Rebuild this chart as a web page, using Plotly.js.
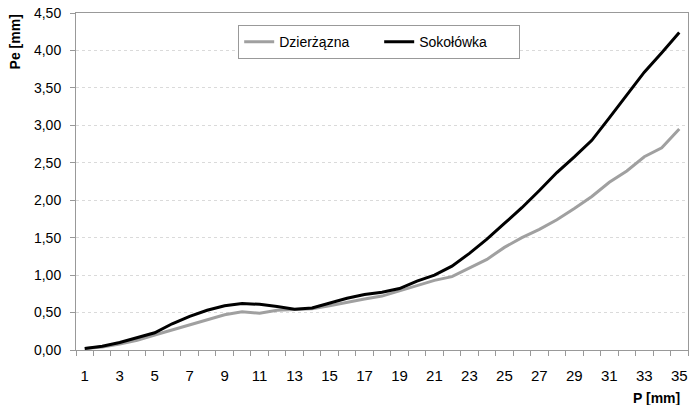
<!DOCTYPE html>
<html>
<head>
<meta charset="utf-8">
<script src="https://cdn.plot.ly/plotly-3.0.1.min.js"></script>
<style>
  html, body { margin: 0; padding: 0; background: #fff; }
  #chart { width: 689px; height: 405px; }
</style>
</head>
<body>
<div id="chart"></div>
<script>
// Precipitation P [mm] (categories along the x axis)
const precipitation = [1, 2, 3, 4, 5, 6, 7, 8, 9, 10, 11, 12, 13, 14, 15, 16, 17, 18,
  19, 20, 21, 22, 23, 24, 25, 26, 27, 28, 29, 30, 31, 32, 33, 34, 35];

// Effective precipitation Pe [mm] for each catchment
const dzierzazna = [0.02, 0.04, 0.08, 0.13, 0.20, 0.27, 0.34, 0.41, 0.47, 0.51, 0.49, 0.53,
  0.54, 0.55, 0.59, 0.64, 0.68, 0.72, 0.79, 0.86, 0.93, 0.98, 1.09, 1.21, 1.37, 1.50,
  1.61, 1.74, 1.89, 2.05, 2.24, 2.39, 2.58, 2.70, 2.95];
const sokolowka = [0.02, 0.05, 0.10, 0.16, 0.23, 0.35, 0.45, 0.53, 0.59, 0.62, 0.61, 0.58,
  0.545, 0.56, 0.625, 0.69, 0.74, 0.77, 0.82, 0.92, 1.00, 1.12, 1.29, 1.48, 1.69, 1.90,
  2.13, 2.37, 2.58, 2.80, 3.10, 3.41, 3.71, 3.97, 4.24];

const seriesNames = ['Dzierżązna', 'Sokołówka'];
const xTickLabels = ['1', '3', '5', '7', '9', '11', '13', '15', '17', '19', '21', '23',
  '25', '27', '29', '31', '33', '35'];
const xTickValues = xTickLabels.map(Number);
const yTickValues = [0, 0.5, 1, 1.5, 2, 2.5, 3, 3.5, 4, 4.5];
const yTickLabels = yTickValues.map(v => v.toFixed(2).replace('.', ','));

const font = 'Liberation Sans, Arial, sans-serif';

const traces = [
  {
    x: precipitation, y: dzierzazna, name: seriesNames[0],
    type: 'scatter', mode: 'lines',
    line: { color: '#a0a0a0', width: 3 }
  },
  {
    x: precipitation, y: sokolowka, name: seriesNames[1],
    type: 'scatter', mode: 'lines',
    line: { color: '#000000', width: 3 }
  }
];

const layout = {
  width: 689, height: 405,
  margin: { l: 76, r: 1, t: 13, b: 55 },
  paper_bgcolor: '#ffffff',
  plot_bgcolor: '#ffffff',
  font: { family: font, color: '#000', size: 14 },
  showlegend: true,
  legend: {
    orientation: 'h',
    x: 0.265, y: 0.964, xanchor: 'left', yanchor: 'top',
    bordercolor: '#999', borderwidth: 1, bgcolor: '#fff',
    font: { family: font, size: 14 },
    entrywidth: 95,
    tracegroupgap: 0
  },
  xaxis: {
    range: [0.5, 35.5],
    tickmode: 'array', tickvals: xTickValues, ticktext: xTickLabels,
    ticks: '', showgrid: false, zeroline: false,
    showline: true, linecolor: '#999', linewidth: 1, mirror: true,
    minor: { tickmode: 'linear', tick0: 0.5, dtick: 1, ticks: 'outside',
      ticklen: 5, tickcolor: '#999', showgrid: false },
    tickfont: { family: font, size: 15 },
    ticklabelstandoff: 12
  },
  yaxis: {
    range: [0, 4.5],
    tickmode: 'array', tickvals: yTickValues, ticktext: yTickLabels,
    ticks: 'outside', ticklen: 5, tickcolor: '#999',
    showgrid: true, gridcolor: '#dadada', griddash: 'dot', gridwidth: 1,
    zeroline: false,
    showline: true, linecolor: '#999', linewidth: 1, mirror: true,
    tickfont: { family: font, size: 14 },
    ticklabelstandoff: 6
  },
  annotations: [
    {
      text: '<b>Pe [mm]</b>', xref: 'paper', yref: 'paper',
      x: -0.1, y: 0.915, xanchor: 'center', yanchor: 'middle',
      textangle: -90, showarrow: false,
      font: { family: font, size: 14 }
    },
    {
      text: '<b>P [mm]</b>', xref: 'paper', yref: 'paper',
      x: 0.99, y: -0.142, xanchor: 'right', yanchor: 'middle',
      showarrow: false,
      font: { family: font, size: 14 }
    }
  ]
};

Plotly.newPlot('chart', traces, layout, { displayModeBar: false, staticPlot: true });
</script>
</body>
</html>
